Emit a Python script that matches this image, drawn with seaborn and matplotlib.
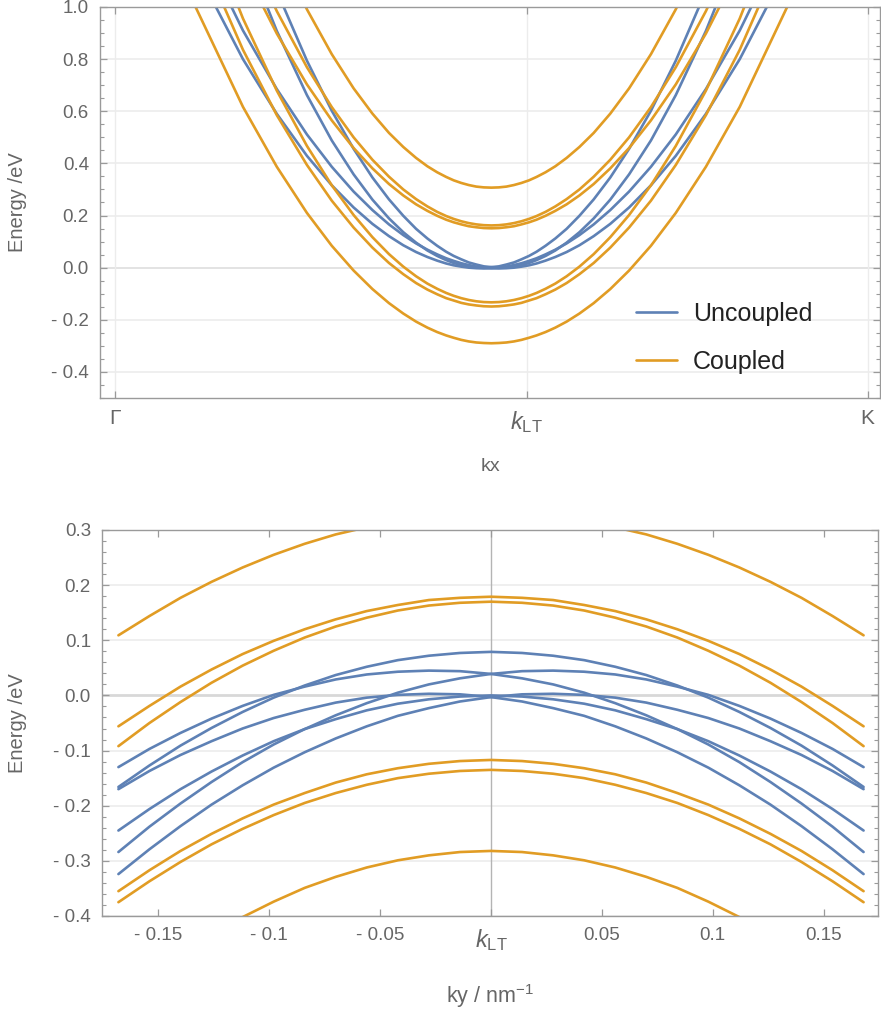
import numpy as np
import pandas as pd
import matplotlib.pyplot as plt
import seaborn as sns

sns.set_style('white')
plt.rcParams['font.family'] = ['Liberation Sans', 'DejaVu Sans']
plt.rcParams['mathtext.fontset'] = 'custom'
plt.rcParams['mathtext.rm'] = 'Liberation Sans'
plt.rcParams['mathtext.it'] = 'Liberation Sans:italic'

BLUE = '#5E81B5'
ORANGE = '#E19C24'
GREY = '#666666'

# ---- top panel: cut along kx (Gamma = 0, K = 1) ----
kx = [0.100, 0.170, 0.215, 0.255, 0.288, 0.317, 0.342, 0.364, 0.383, 0.400, 0.415, 0.428,
      0.440, 0.450, 0.460, 0.470, 0.480, 0.490, 0.500, 0.510, 0.520, 0.530, 0.540, 0.550,
      0.560, 0.572, 0.585, 0.600, 0.617, 0.636, 0.658, 0.683, 0.712, 0.745, 0.785, 0.830, 0.900]
kx_ticks = [0.0, 0.5467, 1.0]
kx_ticklabels = ['Γ', r'$k_{\mathrm{LT}}$', 'K']

top_unc_1 = [1.190, 0.800, 0.590, 0.429, 0.316, 0.231, 0.168, 0.121, 0.086, 0.060, 0.041, 0.027,
             0.016, 0.009, 0.004, 0.000, -0.002, -0.003, -0.002, 0.000, 0.004, 0.010, 0.017, 0.026,
             0.036, 0.051, 0.069, 0.093, 0.125, 0.166, 0.221, 0.292, 0.387, 0.511, 0.685, 0.910, 1.324]
top_unc_2 = [1.324, 0.910, 0.685, 0.511, 0.387, 0.292, 0.221, 0.166, 0.125, 0.093, 0.069, 0.051,
             0.036, 0.026, 0.017, 0.010, 0.004, 0.000, -0.002, -0.003, -0.002, 0.000, 0.004, 0.009,
             0.016, 0.027, 0.041, 0.060, 0.086, 0.121, 0.168, 0.231, 0.316, 0.429, 0.590, 0.800, 1.190]
top_unc_3 = [1.830, 1.231, 0.908, 0.662, 0.488, 0.358, 0.261, 0.189, 0.136, 0.096, 0.066, 0.045,
             0.029, 0.018, 0.010, 0.004, 0.001, 0.000, 0.002, 0.005, 0.012, 0.020, 0.032, 0.045,
             0.061, 0.084, 0.112, 0.149, 0.199, 0.262, 0.346, 0.456, 0.602, 0.794, 1.061, 1.408, 2.045]
top_unc_4 = [2.045, 1.408, 1.061, 0.794, 0.602, 0.456, 0.346, 0.262, 0.199, 0.149, 0.112, 0.084,
             0.061, 0.045, 0.032, 0.020, 0.012, 0.005, 0.002, 0.000, 0.001, 0.004, 0.010, 0.018,
             0.029, 0.045, 0.066, 0.096, 0.136, 0.189, 0.261, 0.358, 0.488, 0.662, 0.908, 1.231, 1.830]

top_cpl_1 = [2.131, 1.548, 1.233, 0.991, 0.819, 0.688, 0.591, 0.517, 0.463, 0.421, 0.389, 0.366,
             0.348, 0.335, 0.325, 0.317, 0.311, 0.308, 0.307, 0.308, 0.311, 0.317, 0.325, 0.335,
             0.348, 0.366, 0.389, 0.421, 0.463, 0.517, 0.591, 0.688, 0.819, 0.991, 1.233, 1.548, 2.131]
top_cpl_2 = [1.781, 1.264, 0.984, 0.769, 0.616, 0.500, 0.414, 0.349, 0.300, 0.263, 0.235, 0.214,
             0.198, 0.187, 0.178, 0.171, 0.166, 0.163, 0.162, 0.163, 0.166, 0.171, 0.178, 0.187,
             0.198, 0.214, 0.235, 0.263, 0.300, 0.349, 0.414, 0.500, 0.616, 0.769, 0.984, 1.264, 1.781]
top_cpl_3 = [1.623, 1.153, 0.898, 0.703, 0.565, 0.459, 0.381, 0.321, 0.277, 0.243, 0.218, 0.199,
             0.184, 0.174, 0.166, 0.159, 0.155, 0.152, 0.151, 0.152, 0.155, 0.159, 0.166, 0.174,
             0.184, 0.199, 0.218, 0.243, 0.277, 0.321, 0.381, 0.459, 0.565, 0.703, 0.898, 1.153, 1.623]
top_cpl_4 = [1.467, 0.956, 0.679, 0.467, 0.316, 0.202, 0.117, 0.052, 0.004, -0.033, -0.061, -0.081,
             -0.097, -0.108, -0.117, -0.124, -0.129, -0.132, -0.133, -0.132, -0.129, -0.124, -0.117, -0.108,
             -0.097, -0.081, -0.061, -0.033, 0.004, 0.052, 0.117, 0.202, 0.316, 0.467, 0.679, 0.956, 1.467]
top_cpl_5 = [1.297, 0.836, 0.585, 0.394, 0.257, 0.154, 0.077, 0.018, -0.025, -0.059, -0.084, -0.102,
             -0.117, -0.126, -0.135, -0.141, -0.145, -0.148, -0.149, -0.148, -0.145, -0.141, -0.135, -0.126,
             -0.117, -0.102, -0.084, -0.059, -0.025, 0.018, 0.077, 0.154, 0.257, 0.394, 0.585, 0.836, 1.297]
top_cpl_6 = [1.043, 0.617, 0.387, 0.210, 0.084, -0.011, -0.082, -0.136, -0.176, -0.207, -0.230, -0.247,
             -0.260, -0.269, -0.277, -0.283, -0.287, -0.289, -0.290, -0.289, -0.287, -0.283, -0.277, -0.269,
             -0.260, -0.247, -0.230, -0.207, -0.176, -0.136, -0.082, -0.011, 0.084, 0.210, 0.387, 0.617, 1.043]

# ---- bottom panel: cut along ky through k_LT ----
ky = [-0.168, -0.154, -0.140, -0.126, -0.112, -0.098, -0.084, -0.070, -0.056, -0.042, -0.028, -0.014,
      0.0, 0.014, 0.028, 0.042, 0.056, 0.070, 0.084, 0.098, 0.112, 0.126, 0.140, 0.154, 0.168]
ky_ticks = [-0.15, -0.1, -0.05, 0.0, 0.05, 0.1, 0.15]
ky_ticklabels = ['- 0.15', '- 0.1', '- 0.05', r'$k_{\mathrm{LT}}$', '0.05', '0.1', '0.15']

bot_unc_1 = [-0.166, -0.127, -0.091, -0.059, -0.030, -0.004, 0.018, 0.037, 0.052, 0.064, 0.072, 0.077,
             0.079, 0.077, 0.072, 0.064, 0.052, 0.037, 0.018, -0.004, -0.030, -0.059, -0.091, -0.127, -0.166]
bot_unc_2 = [-0.130, -0.097, -0.068, -0.042, -0.019, 0.001, 0.016, 0.029, 0.038, 0.043, 0.045, 0.044,
             0.039, 0.031, 0.020, 0.005, -0.014, -0.036, -0.061, -0.089, -0.121, -0.157, -0.196, -0.238, -0.284]
bot_unc_3 = [-0.284, -0.238, -0.196, -0.157, -0.121, -0.089, -0.061, -0.036, -0.014, 0.005, 0.020, 0.031,
             0.039, 0.044, 0.045, 0.043, 0.038, 0.029, 0.016, 0.001, -0.019, -0.042, -0.068, -0.097, -0.130]
bot_unc_4 = [-0.170, -0.137, -0.108, -0.083, -0.060, -0.041, -0.026, -0.013, -0.004, 0.001, 0.003, 0.002,
             -0.003, -0.011, -0.023, -0.037, -0.056, -0.078, -0.103, -0.131, -0.163, -0.198, -0.237, -0.279, -0.324]
bot_unc_5 = [-0.324, -0.279, -0.237, -0.198, -0.163, -0.131, -0.103, -0.078, -0.056, -0.037, -0.023, -0.011,
             -0.003, 0.002, 0.003, 0.001, -0.004, -0.013, -0.026, -0.041, -0.060, -0.083, -0.108, -0.137, -0.170]
bot_unc_6 = [-0.245, -0.206, -0.170, -0.138, -0.109, -0.083, -0.061, -0.043, -0.027, -0.015, -0.007, -0.002,
             0.000, -0.002, -0.007, -0.015, -0.027, -0.043, -0.061, -0.083, -0.109, -0.138, -0.170, -0.206, -0.245]

bot_cpl_1 = [0.109, 0.144, 0.177, 0.206, 0.232, 0.255, 0.275, 0.292, 0.305, 0.316, 0.324, 0.329,
             0.330, 0.329, 0.324, 0.316, 0.305, 0.292, 0.275, 0.255, 0.232, 0.206, 0.177, 0.144, 0.109]
bot_cpl_2 = [-0.056, -0.019, 0.016, 0.047, 0.075, 0.099, 0.120, 0.138, 0.153, 0.164, 0.173, 0.177,
             0.179, 0.177, 0.173, 0.164, 0.153, 0.138, 0.120, 0.099, 0.075, 0.047, 0.016, -0.019, -0.056]
bot_cpl_3 = [-0.092, -0.050, -0.012, 0.023, 0.054, 0.081, 0.105, 0.125, 0.141, 0.154, 0.163, 0.168,
             0.170, 0.168, 0.163, 0.154, 0.141, 0.125, 0.105, 0.081, 0.054, 0.023, -0.012, -0.050, -0.092]
bot_cpl_4 = [-0.355, -0.317, -0.282, -0.251, -0.223, -0.198, -0.177, -0.158, -0.143, -0.132, -0.124, -0.119,
             -0.117, -0.119, -0.124, -0.132, -0.143, -0.158, -0.177, -0.198, -0.223, -0.251, -0.282, -0.317, -0.355]
bot_cpl_5 = [-0.375, -0.337, -0.302, -0.270, -0.242, -0.217, -0.195, -0.177, -0.162, -0.150, -0.142, -0.137,
             -0.135, -0.137, -0.142, -0.150, -0.162, -0.177, -0.195, -0.217, -0.242, -0.270, -0.302, -0.337, -0.375]
bot_cpl_6 = [-0.552, -0.509, -0.469, -0.434, -0.402, -0.374, -0.349, -0.329, -0.312, -0.299, -0.290, -0.284,
             -0.282, -0.284, -0.290, -0.299, -0.312, -0.329, -0.349, -0.374, -0.402, -0.434, -0.469, -0.509, -0.552]


def long_form(k, unc, cpl):
    parts = []
    for i, e in enumerate(unc):
        parts.append(pd.DataFrame({'k': k, 'E': e, 'band': f'u{i}', 'type': 'Uncoupled'}))
    for i, e in enumerate(cpl):
        parts.append(pd.DataFrame({'k': k, 'E': e, 'band': f'c{i}', 'type': 'Coupled'}))
    return pd.concat(parts, ignore_index=True)


df_top = long_form(kx, [top_unc_1, top_unc_2, top_unc_3, top_unc_4],
                   [top_cpl_1, top_cpl_2, top_cpl_3, top_cpl_4, top_cpl_5, top_cpl_6])
df_bot = long_form(ky, [bot_unc_1, bot_unc_2, bot_unc_3, bot_unc_4, bot_unc_5, bot_unc_6],
                   [bot_cpl_1, bot_cpl_2, bot_cpl_3, bot_cpl_4, bot_cpl_5, bot_cpl_6])

palette = {'Uncoupled': BLUE, 'Coupled': ORANGE}
W, H = 881, 1014
fig = plt.figure(figsize=(W / 100, H / 100), dpi=100)
ax1 = fig.add_axes([100 / W, 1 - 398 / H, 780 / W, 391 / H])
ax2 = fig.add_axes([102 / W, 1 - 916 / H, 776 / W, 386 / H])


def fmt(v, nd):
    s = f'{abs(v):.{nd}f}'
    return ('- ' + s) if v < -1e-9 else s


def style(ax):
    for s in ax.spines.values():
        s.set_color('#9a9a9a')
        s.set_linewidth(1.0)
    ax.tick_params(which='both', direction='in', colors='#9a9a9a', labelcolor=GREY,
                   labelsize=13.5, left=True, right=True, top=True, bottom=True,
                   labelright=False, labeltop=False)
    ax.tick_params(which='major', length=5, width=0.9)
    ax.tick_params(which='minor', length=3, width=0.8)
    ax.tick_params(axis='y', pad=8)
    ax.tick_params(axis='x', pad=8)
    for lab in ax.get_xticklabels():
        t = lab.get_text()
        if 'LT' in t:
            lab.set_fontsize(17)
        elif t in ('Γ', 'K'):
            lab.set_fontsize(15)


# top panel
for y in np.arange(-0.4, 1.01, 0.2):
    ax1.axhline(y, color='#dedede' if abs(y) < 1e-9 else '#ececec', lw=1.2, zorder=0)
for x in kx_ticks:
    ax1.axvline(x, color='#ececec', lw=1.0, zorder=0)
sns.lineplot(data=df_top, x='k', y='E', hue='type', units='band', estimator=None,
             hue_order=['Uncoupled', 'Coupled'], palette=palette, lw=1.9,
             sort=True, ax=ax1)
ax1.set_xlim(-0.0199, 1.0163)
ax1.set_ylim(-0.5, 1.0)
ax1.set_xticks(kx_ticks)
ax1.set_xticklabels(kx_ticklabels)
yt = np.round(np.arange(-0.4, 1.01, 0.2), 1)
ax1.set_yticks(yt)
ax1.set_yticklabels([fmt(v, 1) for v in yt])
ax1.set_yticks(np.round(np.arange(-0.5, 1.001, 0.05), 2), minor=True)
style(ax1)
ax1.set_xlabel('kx', fontsize=14, color=GREY)
ax1.set_ylabel('Energy /eV', fontsize=14.5, color=GREY)
ax1.xaxis.set_label_coords(0.5, -0.153)
ax1.yaxis.set_label_coords(-0.094, 0.5)
handles, labels = ax1.get_legend_handles_labels()
ax1.legend(handles, labels, loc='upper left', bbox_to_anchor=(636 / W, 1 - 302 / H),
           bbox_transform=fig.transFigure, frameon=False, fontsize=18,
           handlelength=1.64, handletextpad=0.64, labelspacing=0.96,
           borderpad=0, borderaxespad=0, labelcolor='#222222')

# bottom panel
for y in np.arange(-0.4, 0.31, 0.1):
    ax2.axhline(y, color='#d8d8d8' if abs(y) < 1e-9 else '#ececec',
                lw=2.0 if abs(y) < 1e-9 else 1.2, zorder=0)
ax2.axvline(0.0, color='#b4b4b4', lw=1.0, zorder=0)
sns.lineplot(data=df_bot, x='k', y='E', hue='type', units='band', estimator=None,
             hue_order=['Uncoupled', 'Coupled'], palette=palette, lw=1.9,
             sort=True, legend=False, ax=ax2)
ax2.set_xlim(-0.1754, 0.1745)
ax2.set_ylim(-0.4, 0.3)
ax2.set_xticks(ky_ticks)
ax2.set_xticklabels(ky_ticklabels)
yt2 = np.round(np.arange(-0.4, 0.31, 0.1), 1)
ax2.set_yticks(yt2)
ax2.set_yticklabels([fmt(v, 1) for v in yt2])
ax2.set_yticks(np.round(np.arange(-0.4, 0.301, 0.02), 2), minor=True)
style(ax2)
ax2.set_xlabel(r'ky / nm$^{-1}$', fontsize=15.5, color=GREY)
ax2.set_ylabel('Energy /eV', fontsize=14.5, color=GREY)
ax2.xaxis.set_label_coords(0.5, -0.17)
ax2.yaxis.set_label_coords(-0.097, 0.5)

fig.savefig('out.png', dpi=100)
